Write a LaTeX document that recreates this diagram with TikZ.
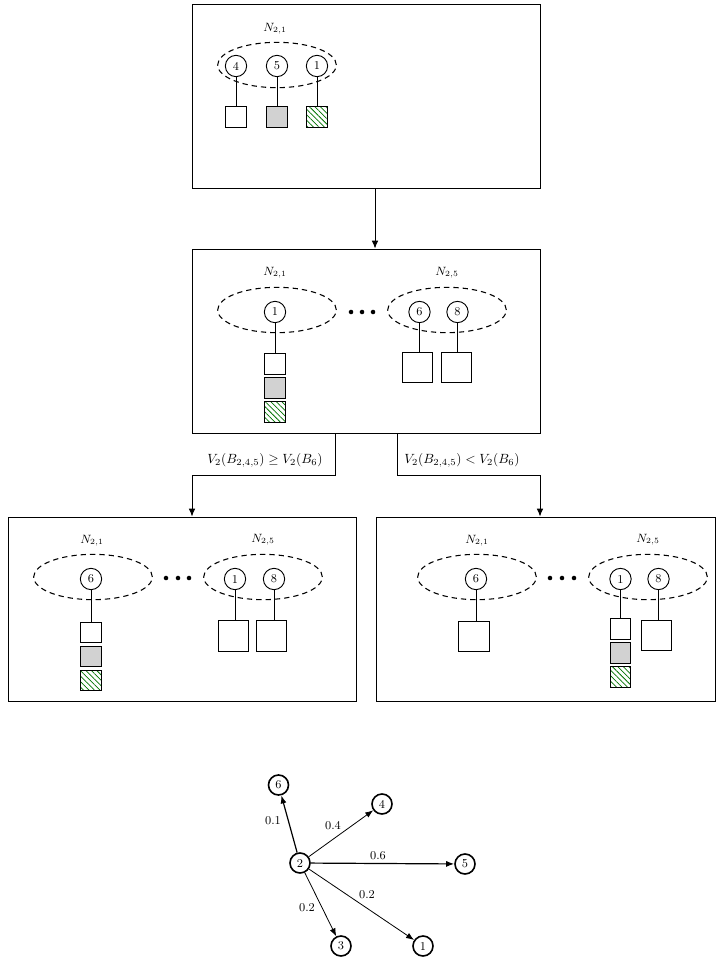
\documentclass[tikz,border=0pt]{standalone}
\usepackage{amsmath}
\usepackage{amssymb}
\usetikzlibrary{shapes.geometric,patterns.meta,arrows.meta}

\begin{document}
\begin{tikzpicture}[x=0.75pt,y=-0.75pt,
  panel/.style={draw,line width=0.65pt,inner sep=0pt,minimum width=261pt,minimum height=138pt},
  group/.style={draw,dash pattern=on 4pt off 3pt,line width=0.8pt,ellipse,inner sep=0pt,minimum width=89pt,minimum height=34pt},
  unit/.style={draw,circle,fill=white,line width=0.7pt,inner sep=0pt,minimum size=16pt,font=\small},
  slot/.style={draw,line width=0.8pt,inner sep=0pt,minimum size=15.5pt},
  bigslot/.style={slot,minimum size=23pt},
  greyslot/.style={slot,fill=gray!35},
  hatchslot/.style={slot,pattern={Lines[angle=-45,distance=2.9pt,line width=0.55pt]},pattern color=green!45!black},
  lbl/.style={font=\small,inner sep=0pt},
  cond/.style={font=\normalsize,inner sep=0pt},
  tie/.style={line width=0.7pt},
  flow/.style={-{Latex[length=6pt,width=5pt]},line width=0.7pt},
  vert/.style={draw,circle,fill=white,line width=1.2pt,inner sep=0pt,minimum size=15pt,font=\small},
  link/.style={-{Latex[length=6pt,width=4.5pt]},line width=0.6pt}]
\useasboundingbox (0,0) rectangle (716,962);

\node[panel] (p1) at (366,96) {};
\node[lbl] (p1n) at (275,29) {$N_{2,1}$};
\node[group] (p1g) at (277,65) {};
\node[unit] (p1u4) at (236,66) {4};
\node[unit] (p1u5) at (277,66) {5};
\node[unit] (p1u1) at (317,66) {1};
\node[slot] (p1s4) at (236,117) {};
\node[greyslot] (p1s5) at (277,117) {};
\node[hatchslot] (p1s1) at (317,117) {};
\draw[tie] (p1u4) -- (p1s4);
\draw[tie] (p1u5) -- (p1s5);
\draw[tie] (p1u1) -- (p1s1);

\node[panel] (p2) at (366,341) {};
\node[lbl] (p2n1) at (275,273) {$N_{2,1}$};
\node[group] (p2g1) at (277,310) {};
\node[unit] (p2u1) at (275,312) {1};
\node[slot] (p2s1a) at (275,364) {};
\node[greyslot] (p2s1b) at (275,388) {};
\node[hatchslot] (p2s1c) at (275,412) {};
\draw[tie] (p2u1) -- (p2s1a);
\foreach \x in {351,362,373} \fill (\x,312) circle (1.7pt);
\node[lbl] (p2n5) at (447,273) {$N_{2,5}$};
\node[group] (p2g5) at (447,310) {};
\node[unit] (p2u6) at (419.5,312) {6};
\node[unit] (p2u8) at (457.5,312) {8};
\node[bigslot] (p2s6) at (417.5,367.5) {};
\node[bigslot] (p2s8) at (456.5,367.5) {};
\draw[tie] (p2u6) -- (p2u6 |- p2s6.north);
\draw[tie] (p2u8) -- (p2u8 |- p2s8.north);

\node[panel] (p3) at (182,609) {};
\node[lbl] (p3n1) at (92,541) {$N_{2,1}$};
\node[group] (p3g1) at (93,577) {};
\node[unit] (p3u6) at (91,579) {6};
\node[slot] (p3s6a) at (91,632.5) {};
\node[greyslot] (p3s6b) at (91,656.5) {};
\node[hatchslot] (p3s6c) at (91,680.5) {};
\draw[tie] (p3u6) -- (p3s6a);
\foreach \x in {166,178,189} \fill (\x,578) circle (1.7pt);
\node[lbl] (p3n5) at (263,540) {$N_{2,5}$};
\node[group] (p3g5) at (263,577) {};
\node[unit] (p3u1) at (235,579) {1};
\node[unit] (p3u8) at (274,579) {8};
\node[bigslot] (p3s1) at (233.5,636) {};
\node[bigslot] (p3s8) at (271.5,636) {};
\draw[tie] (p3u1) -- (p3u1 |- p3s1.north);
\draw[tie] (p3u8) -- (p3u8 |- p3s8.north);

\node[panel,minimum width=254.25pt] (p4) at (545.5,609) {};
\node[lbl] (p4n1) at (477,541) {$N_{2,1}$};
\node[group] (p4g1) at (477,577) {};
\node[unit] (p4u6) at (476,579) {6};
\node[bigslot] (p4s6) at (474,636.5) {};
\draw[tie] (p4u6) -- (p4u6 |- p4s6.north);
\foreach \x in {550,562,574} \fill (\x,578) circle (1.7pt);
\node[lbl] (p4n5) at (648,540) {$N_{2,5}$};
\node[group] (p4g5) at (648,577) {};
\node[unit] (p4u1) at (620.5,579) {1};
\node[unit] (p4u8) at (658.5,579) {8};
\node[slot] (p4s1a) at (620.5,629) {};
\node[greyslot] (p4s1b) at (620.5,653) {};
\node[hatchslot] (p4s1c) at (620.5,677) {};
\node[bigslot] (p4s8) at (656.5,635.5) {};
\draw[tie] (p4u1) -- (p4s1a);
\draw[tie] (p4u8) -- (p4u8 |- p4s8.north);

\draw[flow] ([xshift=6.75pt]p1.south) -- ([xshift=6.75pt]p2.north);
\draw[flow] ([xshift=-23.25pt]p2.south) -- ++(0,42) -| ([xshift=7.5pt]p3.north);
\draw[flow] ([xshift=23.25pt]p2.south) -- ++(0,42) -| ([xshift=-4.125pt]p4.north);
\node[cond] (c1) at (265,460) {$V_2(B_{2,4,5}) \geq V_2(B_6)$};
\node[cond] (c2) at (462,460) {$V_2(B_{2,4,5}) < V_2(B_6)$};

\node[vert] (g2) at (300,863) {2};
\node[vert] (g6) at (278.5,785) {6};
\node[vert] (g4) at (382,804) {4};
\node[vert] (g5) at (465,864) {5};
\node[vert] (g3) at (341,946) {3};
\node[vert] (g1) at (423,946) {1};
\draw[link,line width=0.9pt] (g2) -- (g6);
\draw[link] (g2) -- (g4);
\draw[link,line width=0.9pt] (g2) -- (g5);
\draw[link] (g2) -- (g1);
\draw[link] (g2) -- (g3);
\node[lbl] (w6) at (273,821) {0.1};
\node[lbl] (w4) at (333,826) {0.4};
\node[lbl] (w5) at (378,856) {0.6};
\node[lbl] (w1) at (367,895) {0.2};
\node[lbl] (w3) at (307,908) {0.2};
\end{tikzpicture}
\end{document}
